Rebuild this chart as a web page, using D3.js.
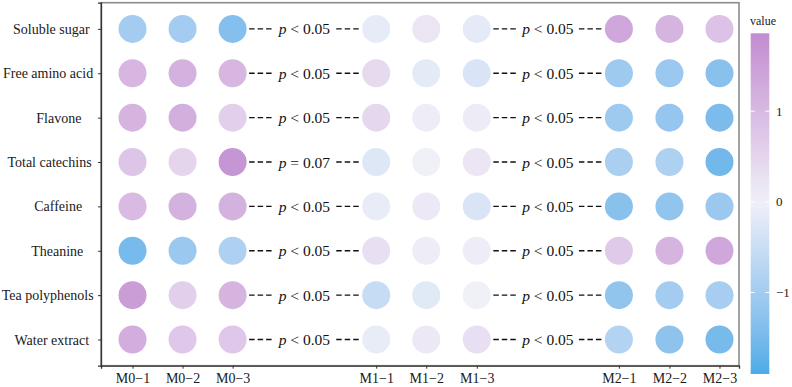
<!DOCTYPE html>
<html>
<head>
<meta charset="utf-8">
<script src="https://cdn.jsdelivr.net/npm/d3@7"></script>
<style>
  body { margin: 0; background: #fff; }
  svg { font-family: 'Liberation Serif', 'Times New Roman', serif; }
</style>
</head>
<body>
<div class="chart"></div>
<script>
const traits = ['Soluble sugar', 'Free amino acid', 'Flavone', 'Total catechins', 'Caffeine', 'Theanine', 'Tea polyphenols', 'Water extract']
const samples = ['M0\u22121', 'M0\u22122', 'M0\u22123', 'M1\u22121', 'M1\u22122', 'M1\u22123', 'M2\u22121', 'M2\u22122', 'M2\u22123']
const samplePos = [1, 2, 3, 5.87, 6.87, 7.88, 10.72, 11.73, 12.73]

// scaled values, one array per trait, in sample order
const solubleSugar = [-1.0, -1.0, -1.35, -0.12, 0.2, -0.15, 1.35, 1.1, 0.85]
const freeAminoAcid = [1.05, 1.15, 1.05, 0.4, -0.15, -0.3, -1.05, -1.1, -1.3]
const flavone = [1.1, 1.2, 0.6, 0.45, 0.05, 0.1, -1.05, -1.15, -1.45]
const totalCatechins = [0.8, 0.5, 1.7, -0.25, 0.0, 0.2, -0.9, -0.85, -1.55]
const caffeine = [1.0, 1.15, 1.15, -0.1, 0.15, -0.3, -1.3, -1.2, -1.1]
const theanine = [-1.5, -1.1, -0.85, 0.3, 0.05, 0.05, 0.7, 1.1, 1.35]
const teaPolyphenols = [1.55, 0.6, 1.1, -0.55, -0.2, 0.0, -1.2, -1.0, -0.95]
const waterExtract = [1.25, 0.75, 0.75, -0.1, 0.15, 0.3, -0.8, -1.25, -1.5]
const valueRows = [solubleSugar, freeAminoAcid, flavone, totalCatechins, caffeine, theanine, teaPolyphenols, waterExtract]

const pM0M1 = ['< 0.05', '< 0.05', '< 0.05', '= 0.07', '< 0.05', '< 0.05', '< 0.05', '< 0.05']
const pM1M2 = ['< 0.05', '< 0.05', '< 0.05', '< 0.05', '< 0.05', '< 0.05', '< 0.05', '< 0.05']

const valueLimits = [-1.9, 1.86]
const legendTicks = [-1, 0, 1]

const width = 792
const height = 387
const panel = { left: 101, right: 739, top: 2.7, bottom: 365.7 }
const radius = 14

const svg = d3.select('.chart')
  .append('svg')
  .attr('width', width)
  .attr('height', height)

const x = d3.scaleLinear().domain([0.37, 13.12]).range([panel.left, panel.right])
const y = d3.scalePoint().domain(traits).range([panel.top, panel.bottom]).padding(0.59)

const color = d3.scaleLinear()
  .domain([valueLimits[0], 0, valueLimits[1]])
  .range(['#4aace8', '#eff0f8', '#c28cd0'])
  .interpolate(d3.interpolateLab)

// panel border
svg.append('rect')
  .attr('x', panel.left)
  .attr('y', panel.top)
  .attr('width', panel.right - panel.left)
  .attr('height', panel.bottom - panel.top)
  .attr('fill', 'none')
  .attr('stroke', '#8c8c8c')
  .attr('stroke-width', 1.6)

const points = []
valueRows.forEach((vals, i) => {
  vals.forEach((v, j) => { points.push({ trait: traits[i], pos: samplePos[j], value: v }) })
})

svg.append('g')
  .selectAll('circle')
  .data(points)
  .enter()
  .append('circle')
  .attr('cx', (d) => x(d.pos))
  .attr('cy', (d) => y(d.trait))
  .attr('r', radius)
  .attr('fill', (d) => color(d.value))

// dashed connectors with p labels
const drawConnector = (labels, fromPos, toPos) => {
  const x0 = x(fromPos) + radius + 2.5
  const x1 = x(toPos) - radius - 3.5
  const mid = (x(fromPos) + x(toPos)) / 2
  const g = svg.append('g')
  labels.forEach((lab, i) => {
    const cy = y(traits[i])
    const t = g.append('text')
      .attr('x', mid)
      .attr('y', cy + 5.5)
      .attr('text-anchor', 'middle')
      .attr('font-size', 15.5)
      .attr('fill', '#111')
    t.append('tspan').attr('font-style', 'italic').text('p')
    t.append('tspan').text(` ${lab}`)
    const w = t.node().getComputedTextLength()
    g.append('line')
      .attr('x1', x0).attr('x2', mid - w / 2 - 5)
      .attr('y1', cy).attr('y2', cy)
      .attr('stroke', '#111').attr('stroke-width', 1.3)
      .attr('stroke-dasharray', '5.5,3')
    g.append('line')
      .attr('x1', x1).attr('x2', mid + w / 2 + 5)
      .attr('y1', cy).attr('y2', cy)
      .attr('stroke', '#111').attr('stroke-width', 1.3)
      .attr('stroke-dasharray', '5.5,3')
  })
}
drawConnector(pM0M1, samplePos[2], samplePos[3])
drawConnector(pM1M2, samplePos[5], samplePos[6])

// axes
const xAxis = svg.append('g')
  .attr('transform', `translate(0,${panel.bottom})`)
  .call(d3.axisBottom(x).tickValues(samplePos).tickFormat((d, i) => samples[i]).tickSize(3).tickPadding(4))
xAxis.select('.domain').attr('stroke', '#333').attr('stroke-width', 1.3)
xAxis.selectAll('.tick line').attr('stroke', '#333')
xAxis.selectAll('.tick text').attr('font-size', 14).attr('fill', '#1a1a1a').attr('font-family', 'Liberation Serif')

const yAxis = svg.append('g')
  .attr('transform', `translate(${panel.left},0)`)
  .call(d3.axisLeft(y).tickSize(3).tickPadding(5))
yAxis.select('.domain').attr('stroke', '#333').attr('stroke-width', 1.3)
yAxis.selectAll('.tick line').attr('stroke', '#333')
yAxis.selectAll('.tick text')
  .attr('font-size', 14)
  .attr('fill', '#1a1a1a')
  .attr('font-family', 'Liberation Serif')
  .each(function () {
    // labels justified at about 0.74 of their width around a common anchor
    const w = this.getComputedTextLength()
    d3.select(this).attr('x', -31.3 + 0.26 * w)
  })

// colour bar legend
const bar = { x: 750.7, w: 18.6, top: 33.3, bottom: 374 }
const ly = d3.scaleLinear().domain(valueLimits).range([bar.bottom, bar.top])

const grad = svg.append('defs').append('linearGradient')
  .attr('id', 'valgrad')
  .attr('x1', 0).attr('y1', 1).attr('x2', 0).attr('y2', 0)
d3.range(0, 1.0001, 0.05).forEach((t) => {
  const v = valueLimits[0] + t * (valueLimits[1] - valueLimits[0])
  grad.append('stop').attr('offset', t).attr('stop-color', color(v))
})

svg.append('rect')
  .attr('x', bar.x)
  .attr('y', bar.top)
  .attr('width', bar.w)
  .attr('height', bar.bottom - bar.top)
  .attr('fill', 'url(#valgrad)')

const legend = svg.append('g')
legend.selectAll('line.l')
  .data(legendTicks)
  .enter()
  .append('line')
  .attr('x1', bar.x).attr('x2', bar.x + 4)
  .attr('y1', (d) => ly(d)).attr('y2', (d) => ly(d))
  .attr('stroke', '#fff').attr('stroke-width', 1)
legend.selectAll('line.r')
  .data(legendTicks)
  .enter()
  .append('line')
  .attr('x1', bar.x + bar.w - 4).attr('x2', bar.x + bar.w)
  .attr('y1', (d) => ly(d)).attr('y2', (d) => ly(d))
  .attr('stroke', '#fff').attr('stroke-width', 1)
legend.selectAll('text')
  .data(legendTicks)
  .enter()
  .append('text')
  .attr('x', 776)
  .attr('y', (d) => ly(d) + 4.5)
  .attr('font-size', 13)
  .attr('fill', '#1a1a1a')
  .text((d) => d < 0 ? `\u2212${Math.abs(d)}` : d)

svg.append('text')
  .attr('x', 750)
  .attr('y', 25)
  .attr('font-size', 12)
  .attr('fill', '#1a1a1a')
  .text('value')
</script>
</body>
</html>
